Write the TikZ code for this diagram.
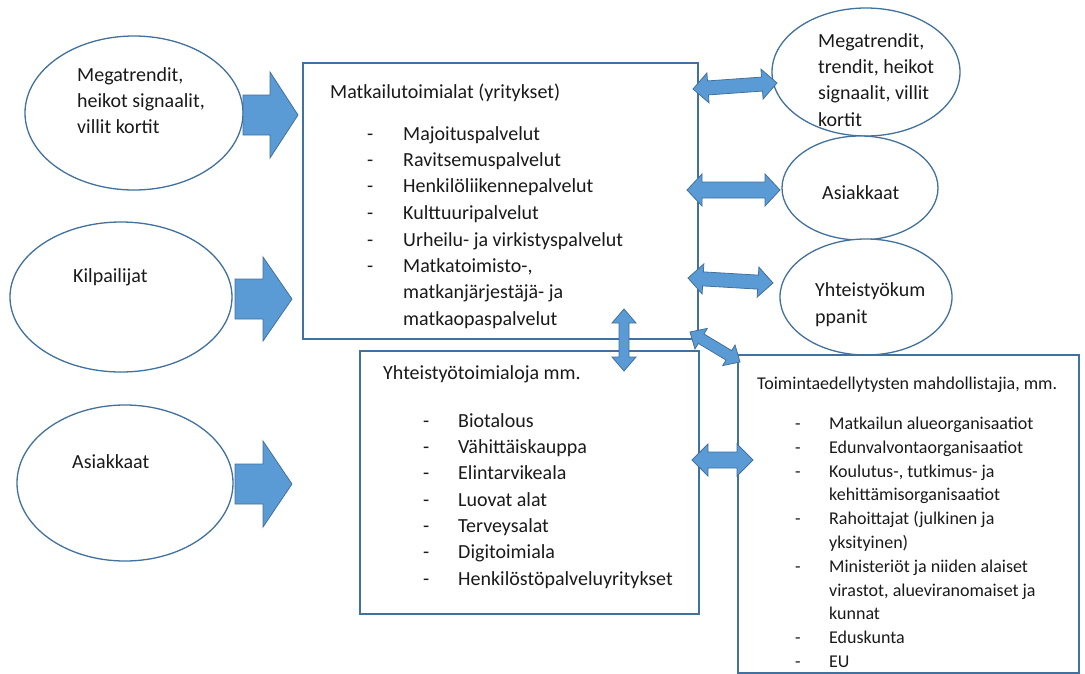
\documentclass[tikz,border=0pt]{standalone}
\usepackage{fontspec}
\setmainfont{Carlito}
\usetikzlibrary{calc,shapes.geometric}
\definecolor{edge}{HTML}{41719C}
\definecolor{fillb}{HTML}{5B9BD5}
\definecolor{txt}{HTML}{1A1A1A}
\tikzset{
  oval/.style={ellipse, draw=edge, line width=1.3pt, fill=white, inner sep=0pt},
  panel/.style={draw=edge, line width=1.6pt, fill=white, inner sep=0pt, anchor=north west},
  lbl/.style={anchor=base west, inner sep=0pt, text=txt, font=\fontsize{20}{24}\selectfont},
  sml/.style={anchor=base west, inner sep=0pt, text=txt, font=\fontsize{18}{22}\selectfont},
  blk/.style={fill=fillb, draw=edge, line width=0.8pt, line join=miter},
}
% double block arrow: from, to, shaft half width, head half width, head length
\newcommand\dblarr[5]{%
  \path (#1) coordinate (a0) (#2) coordinate (b0);
  \path ($(a0)!#5!(b0)$) coordinate (a1) ($(b0)!#5!(a0)$) coordinate (b1);
  \filldraw[blk] (a0) -- ($(a1)!#4!90:(b0)$) -- ($(a1)!#3!90:(b0)$)
    -- ($(b1)!#3!-90:(a0)$) -- ($(b1)!#4!-90:(a0)$) -- (b0)
    -- ($(b1)!#4!90:(a0)$) -- ($(b1)!#3!90:(a0)$)
    -- ($(a1)!#3!-90:(b0)$) -- ($(a1)!#4!-90:(b0)$) -- cycle;}
% single block arrow
\newcommand\onearr[5]{%
  \path (#1) coordinate (p0) (#2) coordinate (p2);
  \path ($(p2)!#5!(p0)$) coordinate (p1);
  \filldraw[blk] ($(p0)!#3!90:(p2)$) -- ($(p1)!#3!-90:(p0)$) -- ($(p1)!#4!-90:(p0)$)
    -- (p2) -- ($(p1)!#4!90:(p0)$) -- ($(p1)!#3!90:(p0)$) -- ($(p0)!#3!-90:(p2)$) -- cycle;}
\begin{document}
\begin{tikzpicture}[x=1pt,y=-1pt]
\useasboundingbox (0,0) rectangle (1085,673);
\fill[white] (0,0) rectangle (1085,673);

% left ellipses
\node[oval, minimum width=218pt, minimum height=154pt] (e1) at (134,113) {};
\node[oval, minimum width=222pt, minimum height=150pt] (e2) at (121,297) {};
\node[oval, minimum width=216pt, minimum height=156pt] (e3) at (125,483) {};
\node[lbl] (e1a) at (77,81) {Megatrendit,};
\node[lbl] (e1b) at (77,107) {heikot signaalit,};
\node[lbl] (e1c) at (77,133) {villit kortit};
\node[lbl] (e2a) at (73,282) {Kilpailijat};
\node[lbl] (e3a) at (72,468) {Asiakkaat};

% right ellipses
\node[oval, minimum width=188pt, minimum height=128pt] (e4) at (866,72) {};
\node[oval, minimum width=156pt, minimum height=104pt] (e5) at (860,188) {};
\node[oval, minimum width=172pt, minimum height=116pt] (e6) at (866,297) {};
\node[lbl] (e4a) at (818,47) {Megatrendit,};
\node[lbl] (e4b) at (818,73) {trendit, heikot};
\node[lbl] (e4c) at (818,99) {signaalit, villit};
\node[lbl] (e4d) at (818,126) {kortit};
\node[lbl] (e5a) at (822,199) {Asiakkaat};
\node[lbl] (e6a) at (815,296) {Yhteistyökum};
\node[lbl] (e6b) at (815,323) {ppanit};

% boxes
\node[panel, minimum width=395pt, minimum height=276pt] (box1) at (302,62) {};
\node[panel, minimum width=339pt, minimum height=263pt] (box2) at (359,350) {};
\node[panel, minimum width=341pt, minimum height=318pt] (box3) at (737,354) {};

% box1 text
\node[lbl] (b1t) at (330,98) {Matkailutoimialat (yritykset)};
\foreach \y/\t [count=\i] in {140/Majoituspalvelut,166/Ravitsemuspalvelut,192/Henkilöliikennepalvelut,219/Kulttuuripalvelut,246/Urheilu- ja virkistyspalvelut,272/{Matkatoimisto-,}}{
  \node[lbl] (b1d\i) at (367,\y) {-};
  \node[lbl] (b1i\i) at (403,\y) {\t};
}
\node[lbl] (b1i7) at (403,298) {matkanjärjestäjä- ja};
\node[lbl] (b1i8) at (403,325) {matkaopaspalvelut};

% box2 text
\node[lbl] (b2t) at (383,379) {Yhteistyötoimialoja mm.};
\foreach \y/\t [count=\i] in {427/Biotalous,453/Vähittäiskauppa,479/Elintarvikeala,506/Luovat alat,532/Terveysalat,558/Digitoimiala,585/Henkilöstöpalveluyritykset}{
  \node[lbl] (b2d\i) at (423,\y) {-};
  \node[lbl] (b2i\i) at (458,\y) {\t};
}

% box3 text
\node[sml] (b3t) at (757,389) {Toimintaedellytysten mahdollistajia, mm.};
\foreach \y [count=\i] in {429,453,477,524,572,643,667}{
  \node[sml] (b3d\i) at (795,\y) {-};
}
\foreach \y/\t [count=\i] in {429/Matkailun alueorganisaatiot,453/Edunvalvontaorganisaatiot,477/{Koulutus-, tutkimus- ja},500/kehittämisorganisaatiot,524/Rahoittajat (julkinen ja,548/yksityinen),572/Ministeriöt ja niiden alaiset,596/{virastot, alueviranomaiset ja},619/kunnat,643/Eduskunta,667/EU}{
  \node[sml] (b3i\i) at (829,\y) {\t};
}

% big input arrows
\coordinate (m1s) at (243,115); \coordinate (m1e) at (298,115);
\coordinate (m2s) at (235,299); \coordinate (m2e) at (292,299);
\coordinate (m3s) at (235,484); \coordinate (m3e) at (292,484);
\onearr{m1s}{m1e}{20pt}{43pt}{28pt}
\onearr{m2s}{m2e}{20pt}{42pt}{29pt}
\onearr{m3s}{m3e}{20pt}{43pt}{29pt}

% double arrows
\coordinate (d1s) at (693,89);  \coordinate (d1e) at (777,83);
\coordinate (d2s) at (687,190); \coordinate (d2e) at (780,190);
\coordinate (d3s) at (688,278); \coordinate (d3e) at (773,283);
\coordinate (d4s) at (690,332); \coordinate (d4e) at (740,362);
\coordinate (d5s) at (624,309); \coordinate (d5e) at (624,371);
\coordinate (d6s) at (692,460); \coordinate (d6e) at (753,460);
\dblarr{d1s}{d1e}{7pt}{15pt}{15pt}
\dblarr{d2s}{d2e}{8pt}{16pt}{15pt}
\dblarr{d3s}{d3e}{7pt}{15pt}{15pt}
\dblarr{d4s}{d4e}{5.5pt}{12pt}{13pt}
\dblarr{d5s}{d5e}{5pt}{12pt}{14pt}
\dblarr{d6s}{d6e}{8pt}{16pt}{16pt}
\end{tikzpicture}
\end{document}
